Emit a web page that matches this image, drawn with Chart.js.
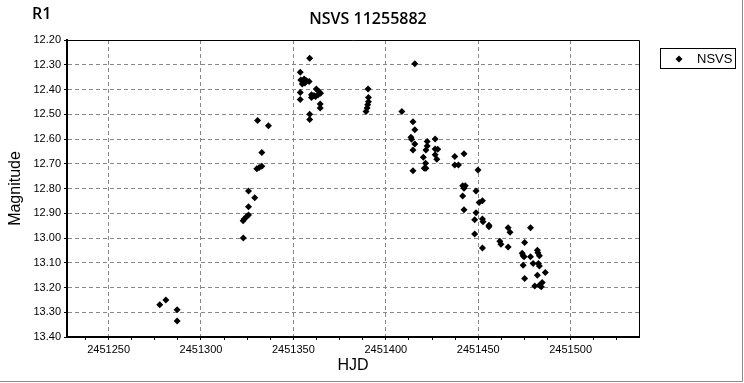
<!DOCTYPE html>
<html>
  <head>
    <title>NSVS 11255882</title>
    <script src="https://cdn.jsdelivr.net/npm/chart.js"></script>
    <style>
      html, body { margin: 0; padding: 0; background: #fff; }
      #wrap { width: 744px; height: 383px; }
    </style>
  </head>
  <body>
    <div id="wrap"><canvas id="lightCurve" width="744" height="383"></canvas></div>
    <script>
      const chartTitle = "NSVS 11255882";
      const cornerLabel = "R1";
      const seriesName = "NSVS";
      const xAxisTitle = "HJD";
      const yAxisTitle = "Magnitude";

      const hjd = [
        2451277.7, 2451281.0, 2451287.1, 2451287.1,
        2451322.8, 2451322.9, 2451323.4, 2451324.6, 2451325.7, 2451325.7, 2451325.7, 2451329.1,
        2451330.2, 2451331.5, 2451332.9, 2451332.9, 2451330.6, 2451336.5,
        2451353.7, 2451354.0, 2451355.8, 2451357.1, 2451358.5, 2451354.8, 2451356.2,
        2451353.7, 2451353.7, 2451358.8, 2451358.8, 2451358.8,
        2451359.8, 2451359.8, 2451361.1, 2451362.4, 2451363.8, 2451364.7, 2451363.4, 2451362.0, 2451364.5, 2451364.5,
        2451390.4, 2451390.6, 2451390.6, 2451390.2, 2451389.9, 2451389.3,
        2451408.7, 2451414.7, 2451415.7, 2451413.6, 2451413.9, 2451415.7, 2451414.7, 2451415.7,
        2451422.4, 2451422.4, 2451421.7, 2451426.7, 2451426.7, 2451428.1, 2451426.7, 2451427.6,
        2451420.3, 2451421.5, 2451420.8, 2451421.7, 2451414.7,
        2451437.3, 2451442.3, 2451437.3, 2451439.3, 2451449.9, 2451441.6, 2451443.0, 2451442.3,
        2451441.6, 2451448.8, 2451452.3, 2451450.5, 2451442.3, 2451448.8, 2451448.1, 2451452.3,
        2451452.6, 2451455.8, 2451455.8, 2451448.1, 2451452.3, 2451461.7, 2451462.3,
        2451466.2, 2451467.2, 2451478.3, 2451466.2, 2451475.1, 2451473.8, 2451474.3, 2451474.8,
        2451478.3, 2451482.0, 2451482.3, 2451483.1, 2451474.3, 2451479.7, 2451482.6, 2451483.1,
        2451482.0, 2451486.3, 2451475.1, 2451480.6, 2451483.1, 2451484.6, 2451484.1
      ];
      const mag = [
        13.270, 13.250, 13.290, 13.335,
        12.930, 13.000, 12.923, 12.914, 12.907, 12.874, 12.810, 12.837,
        12.720, 12.715, 12.710, 12.655, 12.525, 12.546,
        12.330, 12.362, 12.358, 12.365, 12.368, 12.378, 12.374,
        12.412, 12.440, 12.274, 12.500, 12.521,
        12.421, 12.432, 12.424, 12.398, 12.408, 12.415, 12.421, 12.428, 12.459, 12.475,
        12.398, 12.432, 12.449, 12.462, 12.475, 12.489,
        12.489, 12.530, 12.563, 12.593, 12.601, 12.620, 12.644, 12.296,
        12.610, 12.628, 12.644, 12.600, 12.640, 12.641, 12.664, 12.682,
        12.674, 12.698, 12.718, 12.718, 12.728,
        12.671, 12.660, 12.705, 12.705, 12.725, 12.789, 12.789, 12.799,
        12.830, 12.810, 12.849, 12.857, 12.886, 12.898, 12.926, 12.923,
        12.934, 12.948, 12.955, 12.984, 13.040, 13.013, 13.025,
        12.959, 12.977, 12.959, 13.036, 13.018, 13.062, 13.072, 13.076,
        13.076, 13.049, 13.060, 13.072, 13.110, 13.103, 13.103, 13.113,
        13.150, 13.139, 13.164, 13.194, 13.191, 13.180, 13.197
      ];

      const xMajorTicks = [2451250, 2451300, 2451350, 2451400, 2451450, 2451500];
      const xMinorTicks = [2451237.5, 2451262.5, 2451275, 2451287.5, 2451312.5, 2451325, 2451337.5,
        2451362.5, 2451375, 2451387.5, 2451412.5, 2451425, 2451437.5, 2451462.5, 2451475,
        2451487.5, 2451512.5, 2451525];
      const yTicks = [12.2, 12.3, 12.4, 12.5, 12.6, 12.7, 12.8, 12.9, 13.0, 13.1, 13.2, 13.3, 13.4];

      const points = hjd.map((x, i) => ({ x: x, y: mag[i] }));
      const xAllTicks = xMajorTicks.concat(xMinorTicks).sort((a, b) => a - b);

      // frame, corner label, title and legend box
      const decor = {
        id: "decor",
        beforeDraw(chart) {
          const c = chart.ctx;
          c.save();
          c.fillStyle = "#fff";
          c.fillRect(0, 0, chart.width, chart.height);
          c.restore();
        },
        afterDraw(chart) {
          const c = chart.ctx;
          const a = chart.chartArea;
          c.save();
          // thin top / right edges of plot
          c.strokeStyle = "#000";
          c.lineWidth = 1;
          c.beginPath();
          c.moveTo(a.left, a.top + 0.5);
          c.lineTo(a.right + 0.5, a.top + 0.5);
          c.lineTo(a.right + 0.5, a.bottom);
          c.stroke();

          // outer grey frame (right and bottom)
          c.strokeStyle = "#8a8a8a";
          c.lineWidth = 1;
          c.beginPath();
          c.moveTo(742.5, 0);
          c.lineTo(742.5, 381.5);
          c.lineTo(0, 381.5);
          c.stroke();

          c.fillStyle = "#000";
          c.textBaseline = "middle";
          c.font = "600 16px 'Open Sans'";
          c.textAlign = "left";
          c.fillText(cornerLabel, 32, 14);
          c.textAlign = "center";
          c.fillText(chartTitle, 368, 19);

          // legend
          c.strokeStyle = "#000";
          c.strokeRect(660.5, 48.5, 75, 20);
          c.beginPath();
          c.moveTo(679, 55.5);
          c.lineTo(682.5, 59);
          c.lineTo(679, 62.5);
          c.lineTo(675.5, 59);
          c.closePath();
          c.fill();
          c.font = "13px 'Liberation Sans'";
          c.textAlign = "left";
          c.fillText(seriesName, 697, 59);
          c.restore();
        }
      };

      const ctx = document.getElementById("lightCurve").getContext("2d");
      new Chart(ctx, {
        type: "scatter",
        data: {
          datasets: [
            {
              label: seriesName,
              data: points,
              pointStyle: "rectRot",
              pointRadius: 3.5,
              pointHoverRadius: 3.5,
              backgroundColor: "#000",
              borderColor: "#000",
              borderWidth: 0,
            },
          ],
        },
        options: {
          responsive: false,
          animation: false,
          devicePixelRatio: 1,
          layout: { padding: { left: 0, top: 40, right: 105, bottom: 0 } },
          plugins: {
            legend: { display: false },
            title: { display: false },
            tooltip: { enabled: false },
          },
          scales: {
            x: {
              type: "linear",
              min: 2451227.5,
              max: 2451537,
              afterBuildTicks: (scale) => {
                scale.ticks = xAllTicks.map((v) => ({ value: v }));
              },
              afterFit: (scale) => {
                scale.height = 46;
              },
              ticks: {
                autoSkip: false,
                maxRotation: 0,
                padding: 3,
                color: "#000",
                font: { family: "'Liberation Sans'", size: 11 },
                callback: (v) => (xMajorTicks.includes(v) ? String(v) : ""),
              },
              grid: {
                color: (c) => (c.tick && xMajorTicks.includes(c.tick.value) ? "#888" : "rgba(0,0,0,0)"),
                tickColor: "#000",
                tickLength: 3,
                lineWidth: 1,
              },
              // in v4 the dash here applies to the grid lines
              border: { color: "#000", width: 2, dash: [4, 3] },
              title: {
                display: true,
                text: xAxisTitle,
                color: "#000",
                font: { family: "'Liberation Sans'", size: 16 },
                padding: { top: 0, bottom: 8 },
              },
            },
            y: {
              type: "linear",
              reverse: true,
              min: 12.2,
              max: 13.4,
              afterBuildTicks: (scale) => {
                scale.ticks = yTicks.map((v) => ({ value: v }));
              },
              afterFit: (scale) => {
                scale.width = 67;
              },
              ticks: {
                padding: 3,
                color: "#000",
                font: { family: "'Liberation Sans'", size: 11 },
                callback: (v) => v.toFixed(2),
              },
              grid: {
                color: "#888",
                tickColor: "#000",
                tickLength: 3,
                lineWidth: 1,
              },
              border: { color: "#000", width: 2, dash: [4, 3] },
              title: {
                display: true,
                text: yAxisTitle,
                color: "#000",
                font: { family: "'Liberation Sans'", size: 16 },
                padding: { top: 6, bottom: 0 },
              },
            },
          },
        },
        plugins: [decor],
      });
    </script>
  </body>
</html>
